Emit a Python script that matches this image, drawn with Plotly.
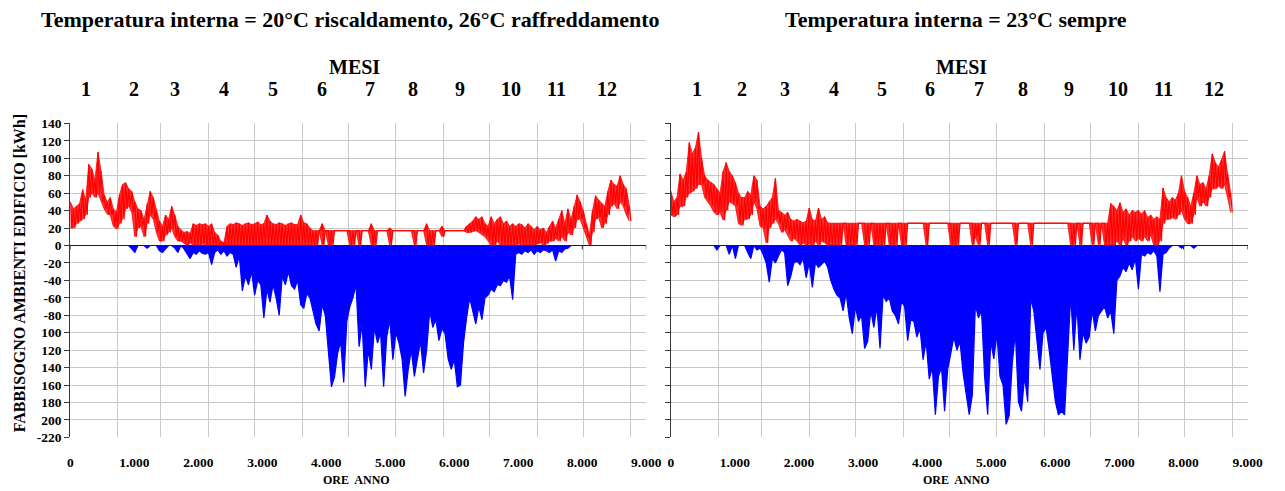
import numpy as np
import plotly.graph_objects as go

# Hourly building demand sampled every 48 h: each sample holds the peak and the
# trough of the heating curve inside the window, and the cooling peak (negative).
STEP = 48
hours = np.arange(0, 8760, STEP)  # 183 samples over the year

# --- Panel 1: 20 °C heating / 26 °C cooling -------------------------------
left_heat_hi = [
    50, 42, 45, 48, 64, 52, 93, 88, 75, 107,
    85, 58, 50, 55, 42, 38, 58, 70, 72, 65,
    62, 50, 42, 40, 30, 48, 62, 55, 40, 28,
    22, 35, 30, 45, 35, 22, 18, 15, 16, 14,
    25, 23, 25, 24, 25, 22, 25, 15, 12, 5,
    3, 22, 25, 24, 26, 25, 23, 25, 26, 24,
    25, 27, 24, 25, 35, 28, 25, 24, 26, 25,
    23, 25, 26, 24, 24, 35, 26, 25, 20, 17,
    17, 17, 25, 17, 17, 17, 17, 17, 17, 17,
    17, 17, 17, 17, 17, 17, 17, 17, 25, 17,
    17, 17, 17, 17, 20, 17, 17, 17, 17, 17,
    17, 17, 17, 17, 17, 17, 25, 17, 17, 17,
    17, 22, 17, 17, 17, 17, 17, 17, 17, 22,
    25, 28, 33, 30, 33, 25, 22, 33, 25, 30,
    33, 25, 28, 22, 25, 22, 25, 24, 20, 25,
    22, 18, 22, 18, 20, 15, 22, 28, 20, 30,
    40, 25, 42, 30, 45, 58, 50, 40, 25, 12,
    40, 57, 52, 48, 45, 62, 75, 70, 68, 80,
    70, 65, 45,
]
left_heat_lo = [
    20, 20, 25, 28, 30, 35, 55, 60, 55, 60,
    50, 42, 36, 35, 22, 19, 25, 30, 42, 45,
    38, 10, 20, 22, 10, 25, 35, 30, 15, 5,
    5, 12, 15, 20, 10, 5, 5, 2, 0, 3,
    0, 0, 0, 2, 0, 0, 0, 0, 0, 0,
    0, 0, 0, 0, 0, 0, 0, 0, 0, 0,
    0, 0, 0, 0, 0, 0, 0, 0, 0, 0,
    0, 0, 0, 0, 0, 0, 0, 0, 0, 0,
    0, 17, 0, 17, 0, 0, 17, 17, 17, 17,
    17, 0, 0, 17, 0, 17, 17, 17, 0, 0,
    17, 17, 17, 17, 0, 17, 17, 17, 17, 17,
    17, 17, 0, 17, 17, 17, 0, 0, 0, 17,
    17, 10, 17, 17, 17, 17, 17, 17, 17, 15,
    15, 16, 17, 15, 12, 10, 5, 0, 0, 5,
    0, 0, 0, 0, 0, 0, 2, 0, 0, 0,
    0, 0, 2, 3, 0, 2, 5, 5, 8, 5,
    10, 5, 15, 12, 20, 30, 30, 20, 10, 0,
    15, 30, 32, 20, 25, 35, 45, 48, 42, 50,
    45, 35, 28,
]
left_cool = [
    0, 0, 0, 0, 0, 0, 0, 0, 0, 0,
    0, 0, 0, 0, 0, 0, 0, 0, 0, 0,
    -4, -8, 0, 0, 0, -3, 0, 0, 0, -6,
    -8, -4, 0, 0, -3, -8, 0, -4, -10, -15,
    -8, -10, -6, -9, -10, -8, -22, -8, -5, -10,
    -6, -12, -8, -10, -25, -12, -52, -35, -45, -30,
    -57, -40, -45, -83, -50, -65, -45, -60, -80, -35,
    -45, -30, -46, -50, -40, -68, -72, -55, -60, -75,
    -90, -98, -68, -80, -120, -162, -151, -124, -110, -157,
    -87, -70, -60, -45, -116, -90, -162, -120, -142, -94,
    -112, -100, -162, -105, -85, -131, -100, -112, -130, -173,
    -142, -120, -150, -131, -110, -146, -120, -75, -94, -85,
    -109, -95, -101, -130, -142, -131, -162, -160, -112, -83,
    -60, -75, -90, -70, -85, -60, -57, -50, -53, -45,
    -46, -40, -42, -35, -62, -10, -8, -10, -6, -8,
    -5, -10, -6, -8, -5, -6, -8, -5, -18, -6,
    -8, -4, -3, 0, 0, 0, 0, 0, 0, 0,
    0, 0, 0, 0, 0, 0, 0, 0, 0, 0,
    0, 0, 0,
]

# --- Panel 2: 23 °C all year ------------------------------------------------
right_heat_hi = [
    62, 50, 55, 82, 75, 84, 118, 105, 112, 130,
    100, 80, 75, 72, 70, 65, 60, 85, 95, 85,
    80, 72, 60, 55, 55, 62, 58, 80, 75, 45,
    42, 45, 50, 55, 77, 40, 38, 35, 38, 30,
    28, 30, 28, 26, 28, 43, 30, 28, 43, 30,
    33, 26, 25.5, 25.5, 25.5, 25.5, 25.5, 25.5, 25.5, 25.5,
    25.5, 25.5, 25.5, 25.5, 25.5, 25.5, 25.5, 25.5, 25.5, 25.5,
    25.5, 25.5, 25.5, 25.5, 25.5, 25.5, 25.5, 25.5, 25.5, 25.5,
    25.5, 25.5, 25.5, 25.5, 25.5, 25.5, 25.5, 25.5, 25.5, 25.5,
    25.5, 25.5, 25.5, 25.5, 25.5, 25.5, 25.5, 25.5, 25.5, 25.5,
    25.5, 25.5, 25.5, 25.5, 25.5, 25.5, 25.5, 25.5, 25.5, 25.5,
    25.5, 25.5, 25.5, 25.5, 25.5, 25.5, 25.5, 25.5, 25.5, 25.5,
    25.5, 25.5, 25.5, 25.5, 25.5, 25.5, 25.5, 25.5, 25.5, 25.5,
    25.5, 25.5, 25.5, 25.5, 25.5, 25.5, 25.5, 25.5, 25.5, 25.5,
    25.5, 25.5, 25.5, 48, 45, 40, 49, 38, 42, 35,
    40, 38, 40, 36, 40, 32, 35, 30, 33, 30,
    66, 55, 50, 55, 52, 60, 80, 62, 55, 45,
    60, 80, 70, 72, 65, 80, 105, 95, 90, 98,
    108, 82, 60,
]
right_heat_lo = [
    35, 33, 35, 45, 45, 55, 60, 62, 65, 70,
    70, 55, 50, 45, 38, 35, 38, 29, 40, 50,
    48, 45, 25, 23, 30, 30, 35, 50, 42, 22,
    20, 3, 20, 25, 30, 25, 15, 18, 12, 5,
    8, 5, 0, 3, 0, 2, 0, 5, 0, 5,
    3, 0, 0, 0, 0, 0, 25.5, 0, 0, 0,
    0, 25.5, 25.5, 0, 0, 25.5, 0, 0, 0, 0,
    25.5, 0, 0, 0, 25.5, 0, 0, 25.5, 25.5, 25.5,
    25.5, 25.5, 25.5, 0, 25.5, 25.5, 25.5, 25.5, 25.5, 25.5,
    25.5, 0, 0, 0, 25.5, 25.5, 25.5, 25.5, 0, 10,
    0, 25.5, 25.5, 0, 25.5, 25.5, 25.5, 25.5, 25.5, 25.5,
    25.5, 25.5, 0, 25.5, 25.5, 25.5, 25.5, 0, 25.5, 25.5,
    25.5, 25.5, 25.5, 25.5, 25.5, 25.5, 25.5, 25.5, 25.5, 25.5,
    0, 0, 25.5, 0, 25.5, 25.5, 25.5, 0, 25.5, 0,
    25.5, 0, 0, 0, 0, 5, 0, 8, 0, 5,
    10, 5, 8, 5, 10, 5, 12, 0, 0, 5,
    25, 30, 30, 32, 30, 35, 40, 30, 25, 25,
    35, 55, 45, 50, 45, 55, 65, 65, 68, 65,
    70, 55, 38,
]
right_cool = [
    0, 0, 0, 0, 0, 0, 0, 0, 0, 0,
    0, 0, 0, 0, 0, -5, 0, 0, 0, -10,
    0, -15, 0, 0, 0, -8, -15, 0, -5, -3,
    -10, -20, -42, -15, -20, -12, -5, -8, -46, -35,
    -20, -18, -22, -15, -37, -20, -48, -20, -25, -22,
    -18, -25, -40, -50, -57, -60, -75, -55, -83, -101,
    -70, -87, -80, -118, -110, -75, -94, -70, -118, -57,
    -64, -60, -75, -80, -90, -64, -70, -109, -85, -87,
    -105, -95, -131, -110, -153, -140, -194, -150, -140, -190,
    -142, -124, -105, -120, -110, -146, -172, -194, -172, -68,
    -83, -75, -150, -194, -110, -130, -101, -150, -160, -205,
    -195, -135, -100, -179, -190, -150, -179, -61, -75, -112,
    -142, -100, -94, -120, -150, -179, -194, -190, -194, -124,
    -57, -120, -68, -131, -100, -112, -105, -75, -98, -80,
    -75, -70, -83, -75, -101, -40, -35, -25, -30, -20,
    -28, -15, -50, -10, -12, -8, -10, -6, -12, -53,
    -10, -8, -3, 0, 0, 0, -3, 0, 0, 0,
    -3, 0, 0, 0, 0, 0, 0, 0, 0, 0,
    0, 0, 0,
]

# --- Axes content -------------------------------------------------------------
hour_ticks = list(range(0, 9001, 1000))
hour_tick_text = ["0", "1.000", "2.000", "3.000", "4.000", "5.000",
                  "6.000", "7.000", "8.000", "9.000"]
month_edges = [744, 1416, 2160, 2880, 3624, 4344, 5088, 5832, 6552, 7296, 8016, 8760]
month_names = [str(m) for m in range(1, 13)]
month_label_hours_left = [237, 992, 1641, 2408, 3174, 3929, 4678, 5356, 6092, 6889, 7596, 8393]
month_label_hours_right = [406, 1111, 1774, 2551, 3291, 4045, 4815, 5492, 6217, 6982, 7688, 8482]
y_tick_vals = list(range(140, -221, -20))
y_tick_text = ["140", "120", "100", "80", "60", "40", "20", "0", "-20", "-40",
               "-60", "-80", "100", "120", "140", "160", "180", "200", "-220"]

titles = ["Temperatura interna = 20°C riscaldamento, 26°C raffreddamento",
          "Temperatura interna = 23°C sempre"]

W, H = 1285, 491
SERIF = "Liberation Serif"
RED = "#ff0000"
BLUE = "#0000ff"
GRID = "rgb(200,200,200)"
AXIS = "#3a3a3a"

x_domains = [[68.3 / W, 652.4 / W], [677.3 / W, 1262.3 / W]]
y_domain = [1 - 444 / H, 1 - 120 / H]

fig = go.Figure()


def add_panel(xa, ya, heat_hi, heat_lo, cool):
    common = dict(xaxis=xa, yaxis=ya, hoverinfo="skip", showlegend=False)
    # heating band between window trough and peak
    fig.add_trace(go.Scatter(x=hours, y=heat_lo, mode="lines",
                             line=dict(color=RED, width=0.8), **common))
    fig.add_trace(go.Scatter(x=hours, y=heat_hi, mode="lines",
                             line=dict(color=RED, width=0.8), fill="tonexty",
                             fillcolor="rgba(255,0,0,0.8)", **common))
    # daily swing drawn as alternating peak / trough strokes
    xs = np.column_stack([hours, hours + STEP // 2]).ravel()
    ys = np.column_stack([heat_hi, heat_lo]).ravel()
    fig.add_trace(go.Scatter(x=xs, y=ys, mode="lines",
                             line=dict(color=RED, width=1.2), **common))
    # cooling: peak demand filled down from zero
    fig.add_trace(go.Scatter(x=hours, y=cool, mode="lines",
                             line=dict(color=BLUE, width=1.2),
                             fill="tozeroy", fillcolor=BLUE, **common))


add_panel("x", "y", left_heat_hi, left_heat_lo, left_cool)
add_panel("x2", "y2", right_heat_hi, right_heat_lo, right_cool)

tick_font = dict(family=SERIF, size=13.5, color="black", weight="bold")


def bottom_axis(dom, anchor):
    return dict(domain=dom, anchor=anchor, range=[0, 9000],
                tickmode="array", tickvals=hour_ticks, ticktext=hour_tick_text,
                tickfont=tick_font, showgrid=False, zeroline=False,
                showline=False, ticks="outside", ticklen=12,
                tickcolor="rgba(0,0,0,0)",
                minor=dict(tickmode="array", tickvals=month_edges,
                           showgrid=True, gridcolor=GRID, gridwidth=1.3,
                           ticks=""))


def value_axis(anchor, labels):
    return dict(domain=y_domain, anchor=anchor, range=[-220, 140],
                tickmode="array", tickvals=y_tick_vals, ticktext=y_tick_text,
                showticklabels=labels, tickfont=tick_font,
                showgrid=True, gridcolor=GRID, gridwidth=1.3,
                zeroline=True, zerolinecolor="#202020", zerolinewidth=1,
                showline=True, linecolor=AXIS, linewidth=1.3,
                ticks="outside", ticklen=5, tickwidth=1.2, tickcolor=AXIS)


fig.update_layout(
    width=W, height=H, autosize=False,
    margin=dict(l=0, r=0, t=0, b=0),
    paper_bgcolor="white", plot_bgcolor="white",
    showlegend=False,
    xaxis=bottom_axis(x_domains[0], "y"),
    xaxis2=bottom_axis(x_domains[1], "y2"),
    yaxis=value_axis("x", True),
    yaxis2=value_axis("x2", False),
)

# small tick marks on the zero axis every 1000 hours
shapes = []
for xr, yr in (("x", "y"), ("x2", "y2")):
    for h in hour_ticks:
        shapes.append(dict(type="line", xref=xr, yref=yr, x0=h, x1=h,
                           ysizemode="pixel", yanchor=0, y0=0, y1=-4,
                           line=dict(color="#202020", width=1), layer="below"))
fig.update_layout(shapes=shapes)

ann = []
title_x = [352.5 / W, 966.5 / W]
mesi_x = [356 / W, 972 / W]
ore_x = [359 / W, 967 / W]
bold = dict(family=SERIF, color="black", weight="bold")
for k in range(2):
    ann.append(dict(text=titles[k], x=title_x[k], y=1 - 13 / H, xref="paper",
                    yref="paper", showarrow=False, xanchor="center", yanchor="middle",
                    font=dict(size=22, **bold)))
    ann.append(dict(text="MESI", x=mesi_x[k], y=1 - 62 / H, xref="paper",
                    yref="paper", showarrow=False, xanchor="center", yanchor="middle",
                    font=dict(size=20, **bold)))
    ann.append(dict(text="ORE  ANNO", x=ore_x[k], y=0, xref="paper",
                    yref="paper", showarrow=False, xanchor="center", yanchor="bottom",
                    borderpad=0, yshift=-5, font=dict(size=12, **bold)))

# month numbers above each panel
for xr, positions in (("x", month_label_hours_left), ("x2", month_label_hours_right)):
    for h, name in zip(positions, month_names):
        ann.append(dict(text=name, x=h, y=1 - 85 / H, xref=xr, yref="paper",
                        showarrow=False, xanchor="center", yanchor="middle",
                        font=dict(size=20, **bold)))

ann.append(dict(text="FABBISOGNO AMBIENTI EDIFICIO [kWh]", x=17 / W, y=1 - 275 / H,
                xref="paper", yref="paper", showarrow=False, textangle=-90,
                xanchor="center", yanchor="middle",
                font=dict(size=16, **bold)))
fig.update_layout(annotations=ann)

fig.write_html("out.html")
